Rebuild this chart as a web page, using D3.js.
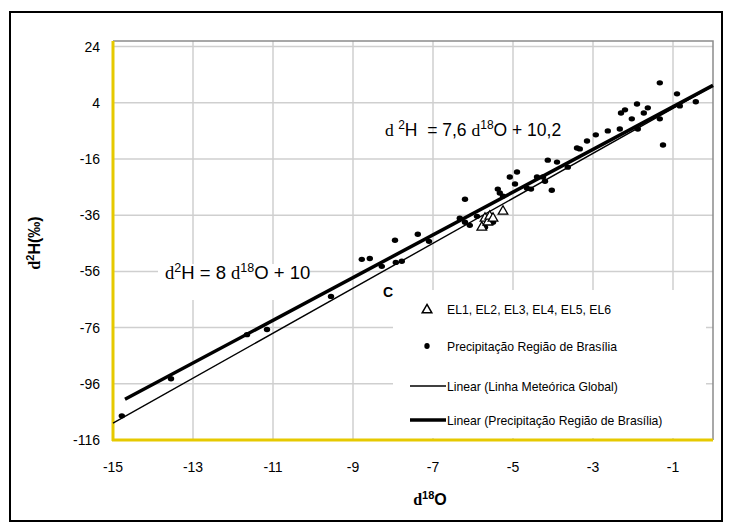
<!DOCTYPE html>
<html lang="pt">
<head>
<meta charset="UTF-8">
<title>d2H x d18O</title>
<script src="https://d3js.org/d3.v7.min.js"></script>
<style>
  body { margin: 0; background: #fff; }
  text { font-family: "Liberation Sans", Arial, sans-serif; fill: #000; }
  .serif { font-family: "Liberation Serif", "Times New Roman", serif; }
</style>
</head>
<body>
<svg width="730" height="528"></svg>
<script>
    // tick labels
    const xTicks = [-15, -13, -11, -9, -7, -5, -3, -1];
    const yTicks = [-116, -96, -76, -56, -36, -16, 4, 24];

    // Precipitação Região de Brasília (d18O, d2H)
    const precO = [-14.78, -13.55, -11.65, -11.15, -9.55, -8.78, -8.58, -8.28, -7.93, -7.78,
                   -7.95, -7.38, -7.10, -6.20, -6.33, -6.20, -6.08, -5.90, -5.70, -5.50,
                   -5.38, -5.33, -5.25, -5.08, -4.90, -4.95, -4.65, -4.55, -4.40, -4.25,
                   -4.20, -4.13, -4.03, -3.90, -3.63, -3.40, -3.33, -3.15, -2.93, -2.63,
                   -2.33, -2.30, -2.20, -2.03, -1.90, -1.88, -1.73, -1.63, -1.33, -1.33,
                   -1.25, -0.90, -0.83, -0.43];
    const precH = [-107.4, -94.2, -78.5, -76.7, -64.9, -51.7, -51.4, -54.2, -52.8, -52.4,
                   -44.9, -42.8, -45.3, -30.3, -37.1, -38.5, -39.6, -36.4, -40.3, -38.5,
                   -26.7, -28.1, -29.2, -22.4, -20.6, -24.9, -26.4, -26.7, -22.4, -22.4,
                   -23.9, -16.4, -27.1, -17.1, -18.9, -12.1, -12.4, -9.6, -7.4, -6.0,
                   -5.3, 0.4, 1.5, -1.7, 3.6, -5.3, 0.4, 2.2, 11.1, -1.7,
                   -11.0, 7.2, 2.9, 4.4];

    // EL1 .. EL6
    const elO = [-5.78, -5.70, -5.63, -5.58, -5.50, -5.25];
    const elH = [-40.3, -37.1, -38.5, -36.4, -37.1, -34.6];

    // trend lines
    const gmwl = [8, 10];          // Linha Meteórica Global
    const local = [7.6, 10.2];     // Precipitação Região de Brasília
    const localRange = [-14.7, 0];

    const legendLabels = ['EL1, EL2, EL3, EL4, EL5, EL6',
                          'Precipitação Região de Brasília',
                          'Linear (Linha Meteórica Global)',
                          'Linear (Precipitação Região de Brasília)'];

    const svg = d3.select('svg');
    const pLeft = 113, pRight = 713, pTop = 41, pBottom = 440;

    const x = d3.scaleLinear().domain([-15, 0]).range([pLeft, pRight]);
    const y = d3.scaleLinear().domain([-116, 26]).range([pBottom, pTop]);

    // outer frame
    svg.append('rect').attr('x', 10).attr('y', 12).attr('width', 712).attr('height', 509)
        .attr('fill', 'none').attr('stroke', '#000').attr('stroke-width', 2);

    // grid
    svg.append('g').selectAll('line').data(xTicks).enter().append('line')
        .attr('x1', d => x(d)).attr('x2', d => x(d))
        .attr('y1', pTop).attr('y2', pBottom)
        .attr('stroke', '#cfcfcf').attr('stroke-width', 1.5);
    svg.append('g').selectAll('line').data(yTicks).enter().append('line')
        .attr('x1', pLeft).attr('x2', pRight)
        .attr('y1', d => y(d)).attr('y2', d => y(d))
        .attr('stroke', '#cfcfcf').attr('stroke-width', 1.5);

    // plot border (top / right)
    svg.append('path')
        .attr('d', `M${pLeft},${pTop}H${pRight}V${pBottom}`)
        .attr('fill', 'none').attr('stroke', '#8c8c8c').attr('stroke-width', 1.5);

    // text box behind 2nd equation
    svg.append('rect').attr('x', 158).attr('y', 264).attr('width', 152).attr('height', 36).attr('fill', '#fff');
    // legend box
    svg.append('rect').attr('x', 393).attr('y', 290).attr('width', 313).attr('height', 148).attr('fill', '#fff');

    // axes (yellow lines)
    svg.append('line').attr('x1', pLeft).attr('x2', pLeft).attr('y1', pTop).attr('y2', pBottom + 1)
        .attr('stroke', '#e6c900').attr('stroke-width', 3);
    svg.append('line').attr('x1', pLeft - 1).attr('x2', pRight).attr('y1', pBottom).attr('y2', pBottom)
        .attr('stroke', '#e6c900').attr('stroke-width', 3);

    // tick labels
    svg.append('g').selectAll('text').data(yTicks).enter().append('text')
        .attr('x', 100).attr('y', d => y(d) + 5)
        .attr('text-anchor', 'end').attr('font-size', 14).text(d => d);
    svg.append('g').selectAll('text').data(xTicks).enter().append('text')
        .attr('x', d => x(d)).attr('y', 472)
        .attr('text-anchor', 'middle').attr('font-size', 14).text(d => d);

    // trend lines
    const lineGen = d3.line().x(d => x(d[0])).y(d => y(d[1]));
    svg.append('path')
        .attr('d', lineGen([-15, 0].map(v => [v, gmwl[0] * v + gmwl[1]])))
        .attr('stroke', '#000').attr('stroke-width', 1.4).attr('fill', 'none');
    svg.append('path')
        .attr('d', lineGen(localRange.map(v => [v, local[0] * v + local[1]])))
        .attr('stroke', '#000').attr('stroke-width', 3.5).attr('fill', 'none');

    // precipitation points
    svg.append('g').selectAll('ellipse').data(precO).enter().append('ellipse')
        .attr('cx', (d, i) => x(d)).attr('cy', (d, i) => y(precH[i]))
        .attr('rx', 3.2).attr('ry', 2.7).attr('fill', '#000');

    // EL points
    const tri = d3.symbol().type(d3.symbolTriangle).size(40);
    svg.append('g').selectAll('path').data(elO).enter().append('path')
        .attr('d', tri)
        .attr('transform', (d, i) => `translate(${x(d)},${y(elH[i])})`)
        .attr('fill', '#fff').attr('stroke', '#000').attr('stroke-width', 1.3);

    // equations
    const eq1 = svg.append('text').attr('x', 385).attr('y', 136).attr('font-size', 17.5).attr('xml:space', 'preserve');
    eq1.append('tspan').attr('class', 'serif').text('d ');
    eq1.append('tspan').attr('font-size', 12).attr('dy', -7).text('2');
    eq1.append('tspan').attr('dy', 7).text('H  = 7,6 ');
    eq1.append('tspan').attr('class', 'serif').text('d');
    eq1.append('tspan').attr('font-size', 12).attr('dy', -7).text('18');
    eq1.append('tspan').attr('dy', 7).text('O + 10,2');

    const eq2 = svg.append('text').attr('x', 165).attr('y', 279).attr('font-size', 18.5).attr('xml:space', 'preserve');
    eq2.append('tspan').attr('class', 'serif').text('d');
    eq2.append('tspan').attr('font-size', 12.5).attr('dy', -7).text('2');
    eq2.append('tspan').attr('dy', 7).text('H = 8 ');
    eq2.append('tspan').attr('class', 'serif').text('d');
    eq2.append('tspan').attr('font-size', 12.5).attr('dy', -7).text('18');
    eq2.append('tspan').attr('dy', 7).text('O + 10');

    svg.append('text').attr('x', 388).attr('y', 297).attr('text-anchor', 'middle')
        .attr('font-size', 14).attr('font-weight', 'bold').text('C');

    // axis titles
    const xt = svg.append('text').attr('x', 430).attr('y', 505).attr('text-anchor', 'middle')
        .attr('font-size', 16).attr('font-weight', 'bold');
    xt.append('tspan').attr('class', 'serif').text('d');
    xt.append('tspan').attr('font-size', 11).attr('dy', -6).text('18');
    xt.append('tspan').attr('dy', 6).text('O');

    const yt = svg.append('text').attr('transform', 'translate(40,243) rotate(-90)')
        .attr('text-anchor', 'middle').attr('font-size', 16).attr('font-weight', 'bold');
    yt.append('tspan').attr('class', 'serif').text('d');
    yt.append('tspan').attr('font-size', 11).attr('dy', -6).text('2');
    yt.append('tspan').attr('dy', 6).text('H(‰)');

    // legend
    const rowsY = [309, 346, 386, 420];
    const lg = svg.append('g');
    lg.selectAll('text').data(legendLabels).enter().append('text')
        .attr('x', 447).attr('y', (d, i) => rowsY[i] + 4.5)
        .attr('font-size', 12.2).text(d => d);
    lg.append('path').attr('d', tri).attr('transform', `translate(427,${rowsY[0] + 1})`)
        .attr('fill', '#fff').attr('stroke', '#000').attr('stroke-width', 1.5);
    lg.append('ellipse').attr('cx', 427).attr('cy', rowsY[1]).attr('rx', 2.7).attr('ry', 2.9).attr('fill', '#000');
    lg.append('line').attr('x1', 410).attr('x2', 446).attr('y1', rowsY[2]).attr('y2', rowsY[2])
        .attr('stroke', '#000').attr('stroke-width', 1.4);
    lg.append('line').attr('x1', 410).attr('x2', 446).attr('y1', rowsY[3]).attr('y2', rowsY[3])
        .attr('stroke', '#000').attr('stroke-width', 3.5);
</script>
</body>
</html>
